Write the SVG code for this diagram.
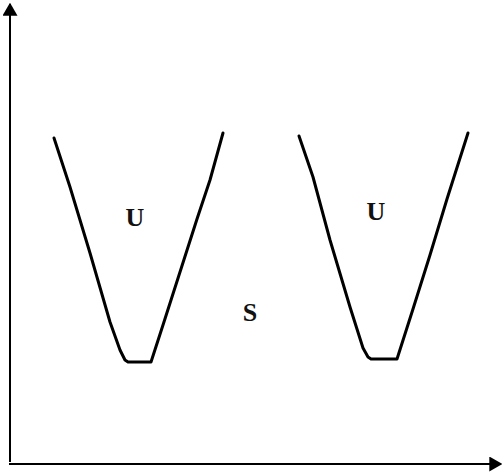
<svg xmlns="http://www.w3.org/2000/svg" width="502" height="474" viewBox="0 0 502 474">
<style>
.axis{stroke:#000;stroke-width:2;fill:none}
.v{stroke:#000;stroke-width:3;fill:none;stroke-linejoin:round;stroke-linecap:round}
.lbl{font-family:"Liberation Serif",serif;font-weight:bold;font-size:26px;fill:#111;text-anchor:middle}
</style>
<defs>
<marker id="ah" viewBox="0 0 10 10" refX="9" refY="5" markerWidth="6.5" markerHeight="7.5" orient="auto" markerUnits="strokeWidth" preserveAspectRatio="none">
<path d="M0,0 L10,5 L0,10 z" fill="#000"/>
</marker>
</defs>
<g id="connectors">
<line class="axis" x1="10" y1="462" x2="10" y2="4" marker-end="url(#ah)"/>
<line class="axis" x1="9" y1="464" x2="501" y2="464" marker-end="url(#ah)"/>
</g>
<g id="well-left">
<polyline class="v" points="54,138 70,187 90,253 110,322 120,350 125,360 128,362 151,362 163,325 180,272 197,219 210,180 223,133"/>
<text class="lbl" x="135" y="226">U</text>
</g>
<g id="well-right">
<polyline class="v" points="299,136 313,177 330,240 350,307 363,348 368,357 371,359 397,359 413,309 430,255 447,199 468,133"/>
<text class="lbl" x="376" y="220">U</text>
</g>
<g id="region-s">
<text class="lbl" x="250" y="321" style="font-size:26px">S</text>
</g>
</svg>
